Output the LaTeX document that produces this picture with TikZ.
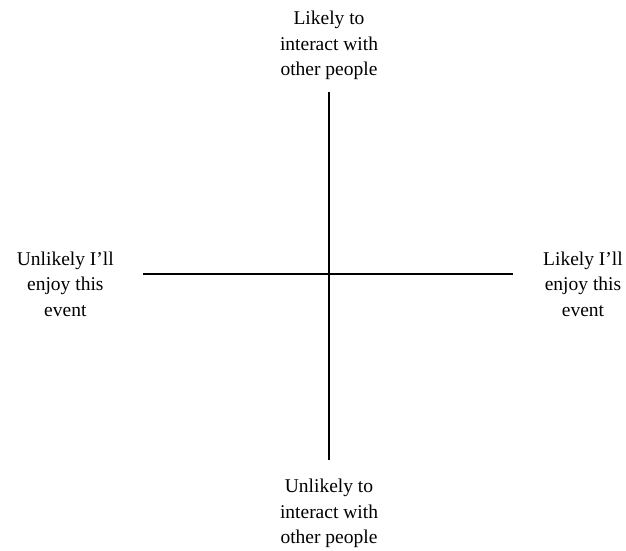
\documentclass[tikz,border=0pt]{standalone}
\usepackage{fontspec}
\setmainfont{Liberation Serif}
\usetikzlibrary{positioning}
\begin{document}
\begin{tikzpicture}[x=1pt,y=-1pt,
    node distance=12pt,
    axislabel/.style={align=center,inner sep=0pt,
      font=\fontsize{19.5}{25.5}\selectfont},
    axisline/.style={line width=1.6pt,draw=black}
  ]
    \useasboundingbox (0,0) rectangle (626,550);
    % ends of the two axes
    \coordinate (ytop) at (329,92);
    \coordinate (ybot) at (329,460);
    \coordinate (xleft) at (143,274);
    \coordinate (xright) at (513,274);
    \draw[axisline] (ytop) -- (ybot);
    \draw[axisline] (xleft) -- (xright);
    % labels
    \node[axislabel,above=12pt of ytop] (top) {Likely to\\interact with\\other people};
    \node[axislabel,below=19pt of ybot] (bottom) {Unlikely to\\interact with\\other people};
    \node[axislabel,left=29pt of xleft,yshift=-10pt] (left) {Unlikely I'll\\enjoy this\\event};
    \node[axislabel,right=30pt of xright,yshift=-10pt] (right) {Likely I'll\\enjoy this\\event};
  \end{tikzpicture}
\end{document}
